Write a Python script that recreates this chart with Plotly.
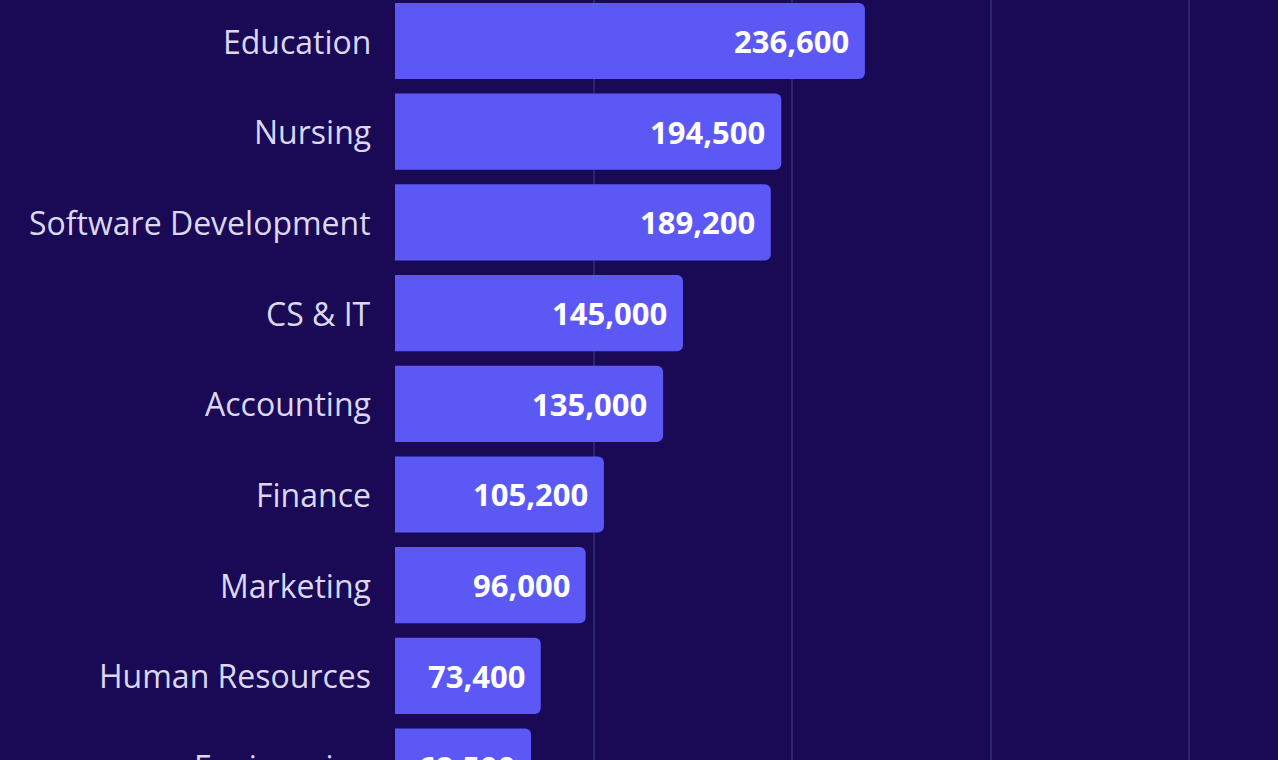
import plotly.graph_objects as go

categories = ["Education", "Nursing", "Software Development", "CS & IT", "Accounting",
              "Finance", "Marketing", "Human Resources", "Engineering"]
values = [236600, 194500, 189200, 145000, 135000, 105200, 96000, 73400, 68500]
value_labels = [f"{v:,}" for v in values]

BG = "#1a0a56"
BAR = "#5b58f6"

fig = go.Figure()
fig.add_trace(go.Bar(
    x=values, y=categories, orientation="h",
    marker=dict(color=BAR, cornerradius=6, line=dict(width=0)),
    hoverinfo="skip",
))

annotations = []
for c, v, t in zip(categories, values, value_labels):
    annotations.append(dict(x=v, y=c, xref="x", yref="y", text=t, showarrow=False,
                            xanchor="right", yanchor="middle", xshift=-14,
                            font=dict(family="Open Sans", size=31, color="#ffffff", weight="bold")))
    annotations.append(dict(x=0, y=c, xref="x", yref="y", text=c, showarrow=False,
                            xanchor="right", yanchor="middle", xshift=-22,
                            font=dict(family="Open Sans", size=32, color="#dcd8f2")))

fig.update_layout(
    width=1278, height=860,
    margin=dict(l=395, r=0, t=0, b=0),
    paper_bgcolor=BG, plot_bgcolor=BG,
    bargap=0.16,
    showlegend=False,
    annotations=annotations,
    xaxis=dict(range=[0, 444600], tickvals=[100000, 200000, 300000, 400000],
               showticklabels=False, showgrid=True, gridcolor="#2d2373", gridwidth=1.5,
               zeroline=False, showline=False, fixedrange=True),
    yaxis=dict(range=[9.03, -0.452], showticklabels=False, showgrid=False,
               zeroline=False, showline=False, fixedrange=True),
)

post = ("document.documentElement.style.margin='0';document.body.style.margin='0';"
        "document.documentElement.style.overflow='hidden';document.body.style.overflow='hidden';"
        "document.body.style.background='" + BG + "';")
fig.write_html("out.html", config={"displayModeBar": False}, post_script=post)
